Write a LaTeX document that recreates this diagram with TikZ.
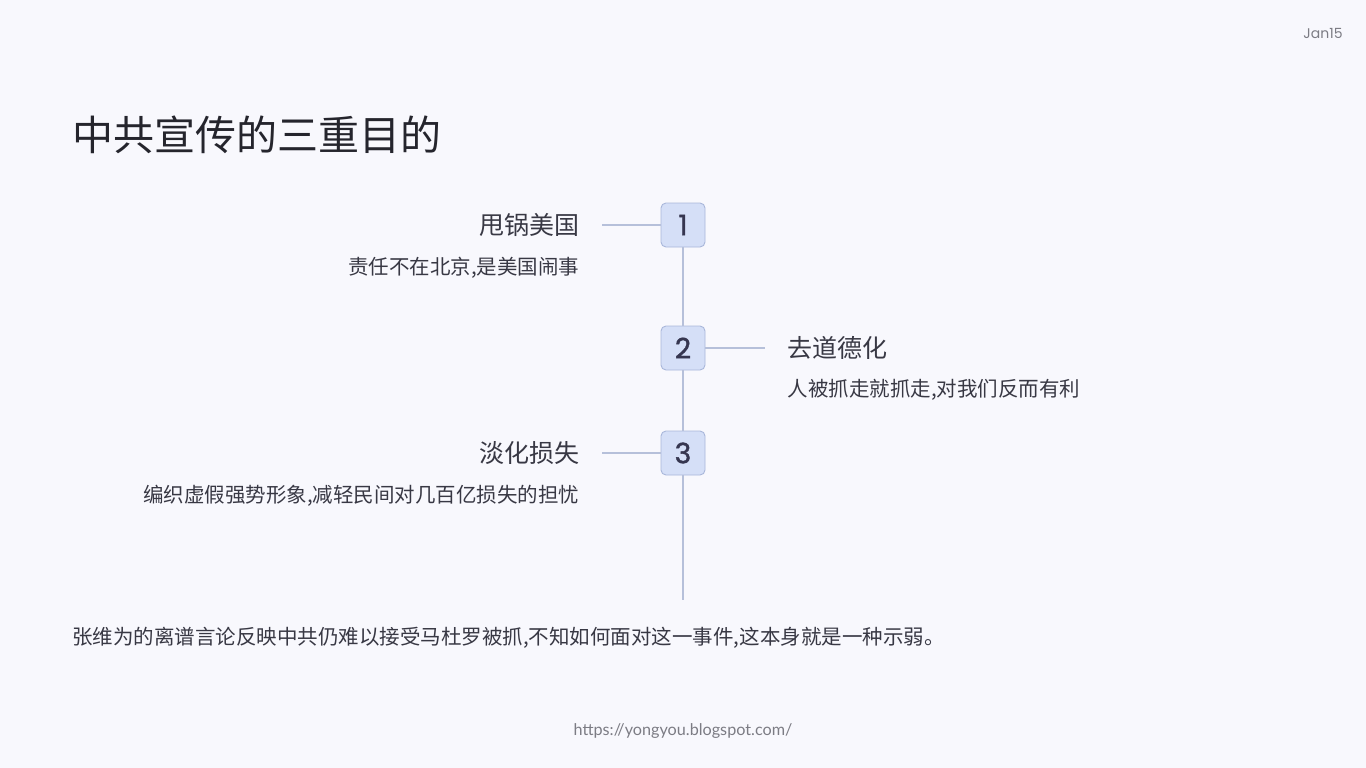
\documentclass[tikz,border=0pt]{standalone}
\usepackage{fontspec}
\usepackage{xcolor}
\newfontfamily\cjk{Noto Sans CJK SC}
\newfontfamily\numfont{Poppins}
\newfontfamily\numbold[FakeBold=1.4]{Poppins}
\newfontfamily\urlfont{Lato}
\usetikzlibrary{positioning}

\definecolor{bgcol}{HTML}{F8F8FD}
\definecolor{boxfill}{HTML}{D5DFF7}
\definecolor{boxline}{HTML}{A9B7DA}
\definecolor{linkcol}{HTML}{B6C0DA}
\definecolor{inkdark}{HTML}{25252D}
\definecolor{inkmid}{HTML}{383844}
\definecolor{inknum}{HTML}{363650}
\definecolor{greytxt}{HTML}{7C7C84}

\tikzset{
  numbox/.style={draw=boxline, fill=boxfill, rounded corners=5pt, line width=0.9pt,
    minimum width=44pt, minimum height=44pt, inner sep=0pt, text=inknum,
    font=\numbold\fontsize{28}{30}\selectfont},
  headtxt/.style={inner sep=0pt, text=inkmid, font=\cjk\fontsize{25}{30}\selectfont},
  subtxt/.style={inner sep=0pt, text=inkmid, font=\cjk\fontsize{20.5}{24}\selectfont},
  link/.style={draw=linkcol, line width=1.6pt},
}

\begin{document}
\begin{tikzpicture}[x=1pt,y=-1pt]
\fill[bgcol] (0,0) rectangle (1366,768);
\useasboundingbox (0,0) rectangle (1366,768);

\node[inner sep=0pt, text=greytxt, font=\numfont\fontsize{14}{16}\selectfont] (date) at (1323,33) {Jan15};
\node[inner sep=0pt, anchor=west, text=inkdark, font=\cjk\fontsize{41}{48}\selectfont] (title) at (72,135) {中共宣传的三重目的};

% timeline
\foreach \i/\y in {1/225,2/348,3/453} {
  \node[numbox] (b\i) at (683,\y) {\i};
}
\coordinate (tail) at (683,600);
\draw[link] (b1) -- (b2);
\draw[link] (b2) -- (b3);
\draw[link] (b3) -- (tail);

% items
\node[headtxt, anchor=east, left=81pt of b1] (h1) {甩锅美国};
\node[subtxt, anchor=east] (s1) at ([yshift=-43pt]h1.east) {责任不在北京,是美国闹事};
\node[headtxt, anchor=west, right=82pt of b2] (h2) {去道德化};
\node[subtxt, anchor=west] (s2) at ([yshift=-42pt]h2.west) {人被抓走就抓走,对我们反而有利};
\node[headtxt, anchor=east, left=81pt of b3] (h3) {淡化损失};
\node[subtxt, anchor=east] (s3) at ([yshift=-43pt]h3.east) {编织虚假强势形象,减轻民间对几百亿损失的担忧};

\draw[link, shorten >=22pt] (b1.west) -- (h1.east);
\draw[link, shorten >=22pt] (b2.east) -- (h2.west);
\draw[link, shorten >=22pt] (b3.west) -- (h3.east);

\node[subtxt, anchor=west] (note) at (72,638) {张维为的离谱言论反映中共仍难以接受马杜罗被抓,不知如何面对这一事件,这本身就是一种示弱。};
\node[inner sep=0pt, text=greytxt, font=\urlfont\fontsize{16.2}{18}\selectfont] (url) at (683,731) {https://yongyou.blogspot.com/};
\end{tikzpicture}
\end{document}
